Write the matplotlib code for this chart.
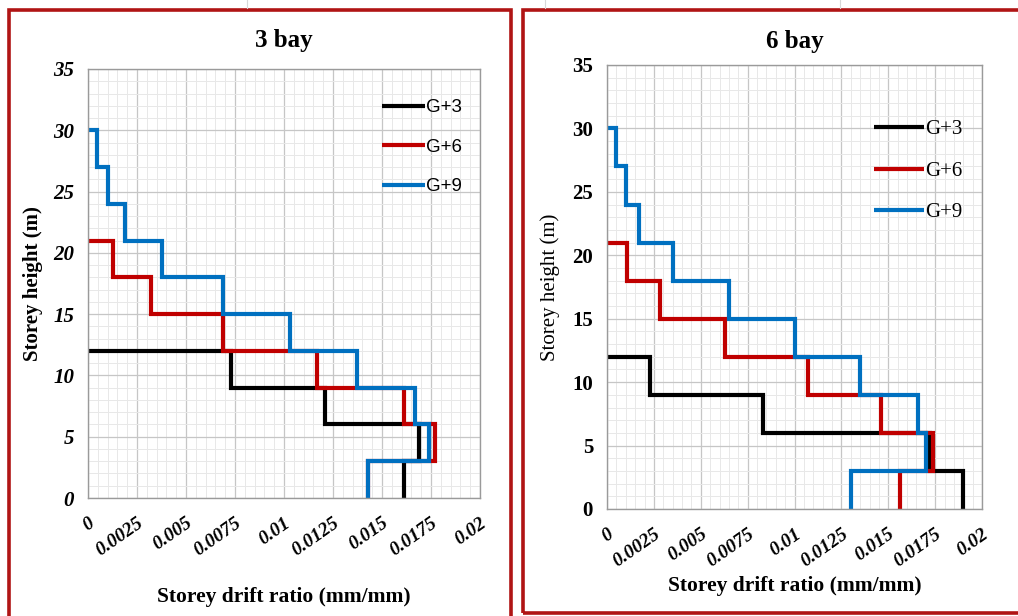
import numpy as np
import matplotlib
matplotlib.use("Agg")
import matplotlib.pyplot as plt
from matplotlib.lines import Line2D
from matplotlib.patches import Rectangle
from matplotlib.ticker import MultipleLocator

# storey drift ratios, bottom storey first; storey height 3 m
storey_h = 3.0
labels = ['G+3', 'G+6', 'G+9']
colors = ['#000000', '#C00000', '#0070C0']

bay3_g3 = [0.0161, 0.0169, 0.0121, 0.0073]
bay3_g6 = [0.0143, 0.0177, 0.0161, 0.0117, 0.0069, 0.0032, 0.0013]
bay3_g9 = [0.0143, 0.0174, 0.0167, 0.0137, 0.0103, 0.0069, 0.0038, 0.0019, 0.0010, 0.00045]

bay6_g3 = [0.0190, 0.0172, 0.0083, 0.0023]
bay6_g6 = [0.0156, 0.0174, 0.0146, 0.0107, 0.0063, 0.0028, 0.00105]
bay6_g9 = [0.0130, 0.0170, 0.0166, 0.0135, 0.0100, 0.0065, 0.0035, 0.0017, 0.0010, 0.0005]

xticks = [0, 0.0025, 0.005, 0.0075, 0.01, 0.0125, 0.015, 0.0175, 0.02]
xtick_labels = ['0', '0.0025', '0.005', '0.0075', '0.01', '0.0125', '0.015', '0.0175', '0.02']
yticks = [0, 5, 10, 15, 20, 25, 30, 35]

serif = 'Liberation Serif'

fig = plt.figure(figsize=(10.18, 6.16), dpi=100)
fig.patch.set_facecolor('white')

# faint spreadsheet cell lines behind the frames
for xp in [247, 545, 840]:
    fig.add_artist(Line2D([xp / 1018, xp / 1018], [1, 1 - 8 / 616], color='#d8d8d8', lw=0.8))

# red frames round the two panels
fig.add_artist(Rectangle((9 / 1018, -0.02), (511 - 9) / 1018, 1.02 - 10 / 616,
                         fill=False, ec='#B01414', lw=2.6))
fig.add_artist(Rectangle((523 / 1018, 3 / 616), (1030 - 523) / 1018, 1 - 13 / 616,
                         fill=False, ec='#B01414', lw=2.6))


def storey_line(ax, drifts, color, label):
    n = len(drifts)
    xs = list(drifts) + [0]
    ys = [storey_h * i for i in range(n + 1)]
    ax.plot(xs, ys, drawstyle='steps-pre', color=color, lw=3.0, label=label,
            solid_joinstyle='miter', solid_capstyle='butt')


def setup(ax, ytick_style, ylab_weight):
    ax.set_xlim(0, 0.02)
    ax.set_ylim(0, 35)
    ax.xaxis.set_major_locator(MultipleLocator(0.0025))
    ax.xaxis.set_minor_locator(MultipleLocator(0.0005))
    ax.yaxis.set_major_locator(MultipleLocator(5))
    ax.yaxis.set_minor_locator(MultipleLocator(1))
    ax.grid(which='major', color='#c6c6c6', lw=0.9)
    ax.grid(which='minor', color='#e8e8e8', lw=0.7)
    ax.set_axisbelow(True)
    for s in ax.spines.values():
        s.set_color('#9a9a9a')
        s.set_linewidth(1.0)
    ax.tick_params(which='both', length=0)
    ax.tick_params(axis='x', pad=12)
    ax.tick_params(axis='y', pad=10)
    ax.set_xticks(xticks)
    ax.set_xticklabels(xtick_labels, rotation=35, ha='right', va='top',
                       rotation_mode='anchor', family=serif, fontsize=14,
                       fontweight='bold', fontstyle='italic')
    ax.set_yticks(yticks)
    ax.set_yticklabels([str(v) for v in yticks], family=serif, fontsize=15,
                       fontweight='bold', fontstyle=ytick_style)
    ax.set_ylabel('Storey height (m)', family=serif, fontsize=15, fontweight=ylab_weight)


# left: 3 bay
ax1 = fig.add_axes([88 / 1018, 1 - 498 / 616, 392 / 1018, 429 / 616])
for d, c, lab in zip([bay3_g3, bay3_g6, bay3_g9], colors, labels):
    storey_line(ax1, d, c, lab)
setup(ax1, 'italic', 'bold')
ax1.set_title('3 bay', family=serif, fontsize=18, fontweight='bold', pad=16)
ax1.set_xlabel('Storey drift ratio (mm/mm)', family=serif, fontsize=15.5, fontweight='bold', labelpad=20)
ax1.yaxis.labelpad = 7
ax1.legend(loc='upper left', bbox_to_anchor=(0.725, 0.952), frameon=False,
           handlelength=2.3, handletextpad=0.05, labelspacing=1.2, borderpad=0,
           prop={'family': 'Liberation Sans', 'size': 13.5})

# right: 6 bay
ax2 = fig.add_axes([607 / 1018, 1 - 509 / 616, 375 / 1018, 444 / 616])
for d, c, lab in zip([bay6_g3, bay6_g6, bay6_g9], colors, labels):
    storey_line(ax2, d, c, lab)
setup(ax2, 'normal', 'normal')
ax2.set_title('6 bay', family=serif, fontsize=18, fontweight='bold', pad=12)
ax2.set_xlabel('Storey drift ratio (mm/mm)', family=serif, fontsize=15.5, fontweight='bold', labelpad=4)
ax2.yaxis.labelpad = 9
ax2.legend(loc='upper left', bbox_to_anchor=(0.685, 0.9), frameon=False,
           handlelength=2.4, handletextpad=0.05, labelspacing=1.05, borderpad=0,
           prop={'family': serif, 'size': 15})

fig.savefig('out.png', dpi=100)
